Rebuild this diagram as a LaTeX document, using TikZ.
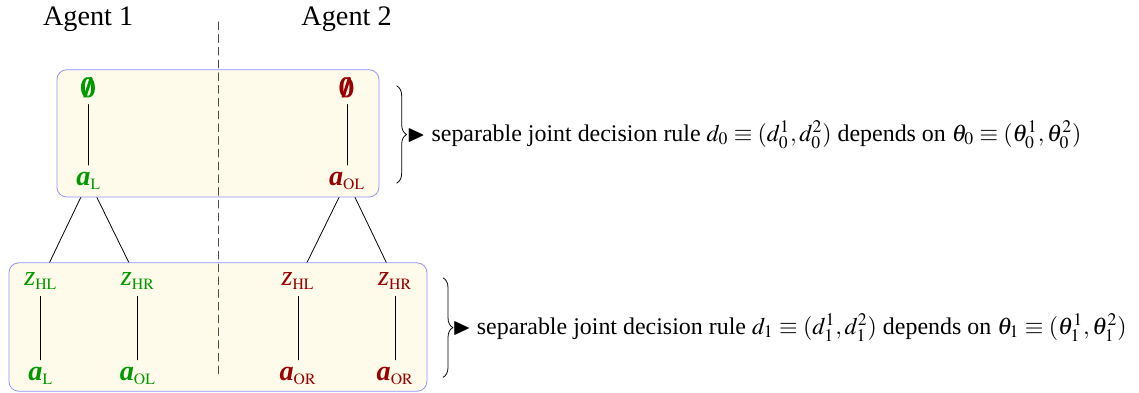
\documentclass[tikz,border=0pt]{standalone}
\usepackage{amsmath,amssymb}
\usepackage{mathptmx}
\usepackage[no-math]{fontspec}
\setmainfont{Liberation Serif}
\usetikzlibrary{decorations.pathreplacing}
\pgfdeclarelayer{back}
\pgfdeclarelayer{background}
\pgfsetlayers{back,background,main}
\colorlet{agA}{green!60!black}
\colorlet{agB}{red!60!black}
\definecolor{stagefill}{RGB}{255,251,234}
\definecolor{stageline}{RGB}{145,145,250}
\tikzset{
	stage/.style={draw=stageline, fill=stagefill, rounded corners=5pt},
	act/.style={anchor=base, font=\Large},
	rulebrace/.style={decorate, decoration={brace, amplitude=5pt}},
	ruletext/.style={font=\fontsize{12.2}{15}\selectfont, inner sep=1pt},
}
\newcommand{\actn}[1]{{\bfseries\itshape a}$_{\scriptscriptstyle\mathrm{#1}}$}
\newcommand{\obsn}[1]{{\itshape z}$_{\scriptscriptstyle\mathrm{#1}}$}
\newcommand{\none}{\pmb{$\emptyset$}}
\begin{document}
\begin{tikzpicture}[line join=round, line cap=round]
		\useasboundingbox (0,0) rectangle (20.41,-7.04);
		\node[font=\Large] (ag1) at (1.58,-0.34) {Agent 1};
		\node[font=\Large] (ag2) at (6.21,-0.34) {Agent 2};
		% stage 0
		\node[act, text=agA] (e1) at (1.59,-1.74) {\none};
		\node[act, text=agA] (a1) at (1.59,-3.32) {\actn{L}};
		\node[act, text=agB] (e2) at (6.22,-1.74) {\none};
		\node[act, text=agB] (a2) at (6.22,-3.32) {\actn{OL}};
		% stage 1
		\node[act, text=agA] (zl1) at (0.73,-5.11) {\obsn{HL}};
		\node[act, text=agA] (zr1) at (2.47,-5.11) {\obsn{HR}};
		\node[act, text=agB] (zl2) at (5.34,-5.11) {\obsn{HL}};
		\node[act, text=agB] (zr2) at (7.08,-5.11) {\obsn{HR}};
		\node[act, text=agA] (al1) at (0.73,-6.81) {\actn{L}};
		\node[act, text=agA] (ar1) at (2.47,-6.81) {\actn{OL}};
		\node[act, text=agB] (al2) at (5.34,-6.81) {\actn{OR}};
		\node[act, text=agB] (ar2) at (7.08,-6.81) {\actn{OR}};
		\draw (e1)--(a1) (e2)--(a2) (zl1)--(al1) (zr1)--(ar1) (zl2)--(al2) (zr2)--(ar2);
		\begin{pgfonlayer}{back}
		\draw (a1)--(zl1) (a1)--(zr1) (a2)--(zl2) (a2)--(zr2);
		\end{pgfonlayer}
		\begin{pgfonlayer}{background}
		\draw[stage] (1.02,-1.25) rectangle (6.79,-3.53);
		\draw[stage] (0.16,-4.71) rectangle (7.65,-7.01);
		\end{pgfonlayer}
		\coordinate (divtop) at (3.91,-0.39);
		\coordinate (divbot) at (3.91,-6.72);
		\draw[black!70, dash pattern=on 4pt off 2.5pt] (divtop)--(divbot);
		% decision rules
		\draw[rulebrace] (7.11,-1.54)--(7.11,-3.28) node[midway, right=4pt, ruletext] (rule0) {$\blacktriangleright$ separable joint decision rule $d_0\equiv(d_0^1,d_0^2)$ depends on $\theta_0\equiv(\theta_0^1,\theta_0^2)$};
		\draw[rulebrace] (7.94,-4.98)--(7.94,-6.76) node[midway, right=3.5pt, ruletext] (rule1) {$\blacktriangleright$ separable joint decision rule $d_1\equiv(d_1^1,d_1^2)$ depends on $\theta_1\equiv(\theta_1^1,\theta_1^2)$};
\end{tikzpicture}
\end{document}
